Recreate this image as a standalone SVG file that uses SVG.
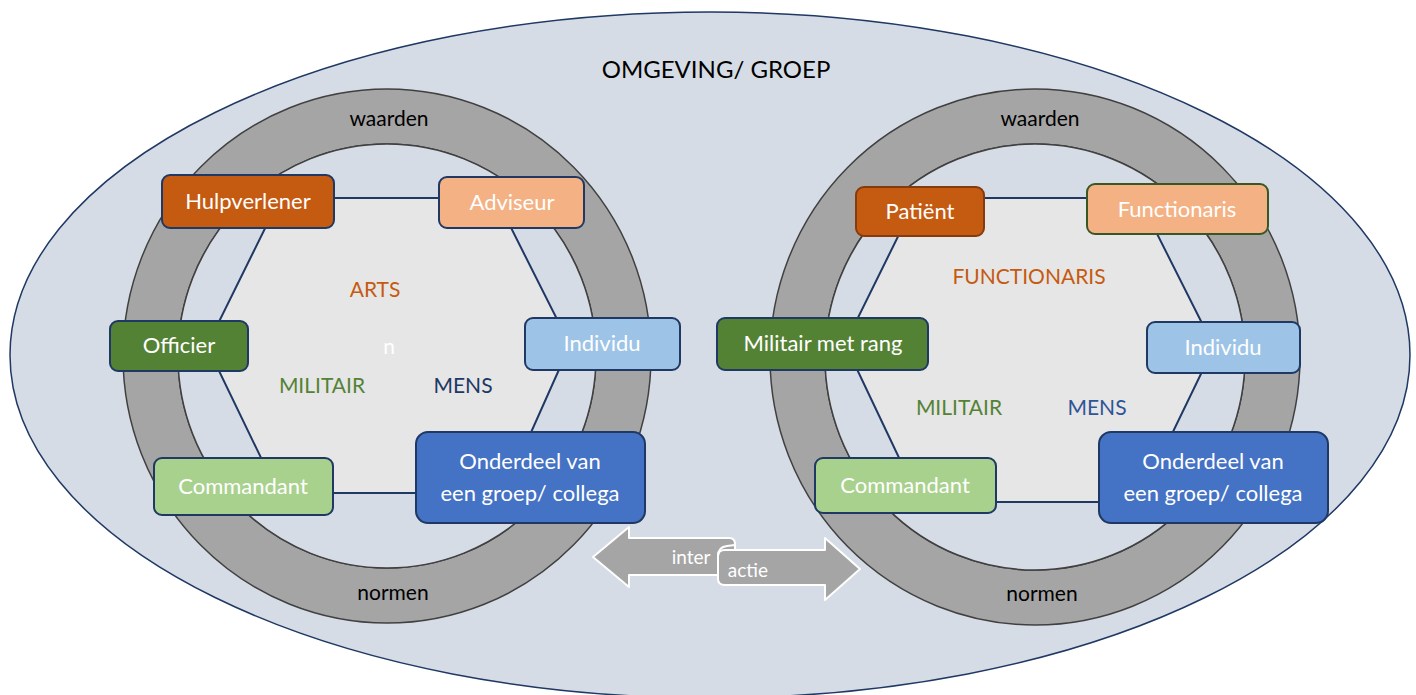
<svg xmlns="http://www.w3.org/2000/svg" width="1416" height="695" viewBox="0 0 1416 695">
<style>
.bg{fill:#D6DCE5;stroke:#1F3864;stroke-width:1.5}
.ring{fill:#A5A5A5;fill-rule:evenodd;stroke:#404040;stroke-width:1.5}
.inner{fill:#D6DCE5;stroke:#404040;stroke-width:1.5}
.hex{fill:#E7E6E6;stroke:none}
.edge{stroke:#1F3864;stroke-width:2;fill:none}
.box{stroke:#1F3864;stroke-width:2}
.bt{font-family:Lato,"Liberation Sans",sans-serif;font-size:22px;fill:#FFFFFF;text-anchor:middle}
.lbl{font-family:Lato,"Liberation Sans",sans-serif;font-size:21px;text-anchor:middle}
.arrow{fill:#A5A5A5;stroke:#FFFFFF;stroke-width:2;stroke-linejoin:round}
</style>
<g id="background">
<ellipse class="bg" cx="710" cy="355" rx="700" ry="343"/>
<text class="lbl" x="716" y="78" style="font-size:24px" fill="#000">OMGEVING/ GROEP</text>
</g>
<g id="ring-left">
<path class="ring" d="M123,356 A264,267 0 1 0 651,356 A264,267 0 1 0 123,356 Z M178,356 A209,212 0 1 1 596,356 A209,212 0 1 1 178,356 Z"/>
<ellipse class="inner" cx="387" cy="356" rx="209" ry="212"/>
<polygon class="hex" points="280,198 496,198 570,345 504,493 278,493 207,346"/>
<text class="lbl" x="389" y="126" fill="#000">waarden</text>
<text class="lbl" x="393" y="600" fill="#000">normen</text>
</g>
<g id="ring-right">
<path class="ring" d="M770,357 A265,268 0 1 0 1300,357 A265,268 0 1 0 770,357 Z M825,357 A210,213 0 1 1 1245,357 A210,213 0 1 1 825,357 Z"/>
<ellipse class="inner" cx="1035" cy="357" rx="210" ry="213"/>
<polygon class="hex" points="917,198 1139,198 1214,347 1139,502 920,502 845,344"/>
<text class="lbl" x="1040" y="126" fill="#000">waarden</text>
<text class="lbl" x="1042" y="601" fill="#000">normen</text>
</g>
<g id="connectors">
<polygon class="edge" points="280,198 496,198 570,345 504,493 278,493 207,346"/>
<polygon class="edge" points="917,198 1139,198 1214,347 1139,502 920,502 845,344"/>
</g>
<g id="labels-left">
<text class="lbl" x="375" y="297" fill="#C55A11">ARTS</text>
<text class="lbl" x="389" y="354" fill="#FFFFFF">n</text>
<text class="lbl" x="322" y="393" fill="#548235">MILITAIR</text>
<text class="lbl" x="463" y="393" fill="#203864">MENS</text>
</g>
<g id="labels-right">
<text class="lbl" x="1029" y="284" fill="#C55A11">FUNCTIONARIS</text>
<text class="lbl" x="959" y="415" fill="#548235">MILITAIR</text>
<text class="lbl" x="1097" y="415" fill="#2F5597">MENS</text>
</g>
<g id="hulpverlener"><rect class="box" x="162" y="175" width="172" height="53" rx="8" fill="#C55A11"/><text class="bt" x="248" y="209">Hulpverlener</text></g>
<g id="adviseur"><rect class="box" x="439" y="177" width="145" height="51" rx="8" fill="#F4B183"/><text class="bt" x="512" y="210">Adviseur</text></g>
<g id="officier"><rect class="box" x="110" y="321" width="138" height="50" rx="8" fill="#548235"/><text class="bt" x="179" y="353">Officier</text></g>
<g id="individu-left"><rect class="box" x="525" y="318" width="155" height="52" rx="8" fill="#9DC3E6"/><text class="bt" x="602" y="351">Individu</text></g>
<g id="commandant-left"><rect class="box" x="154" y="458" width="179" height="57" rx="8" fill="#A9D18E"/><text class="bt" x="243" y="494">Commandant</text></g>
<g id="onderdeel-left"><rect class="box" x="416" y="432" width="229" height="91" rx="12" fill="#4472C4"/><text class="bt" x="530" y="469">Onderdeel van</text><text class="bt" x="530" y="501">een groep/ collega</text></g>
<g id="patient"><rect class="box" x="856" y="187" width="128" height="49" rx="8" fill="#C55A11" style="stroke:#843C0C"/><text class="bt" x="920" y="219">Patiënt</text></g>
<g id="functionaris"><rect class="box" x="1087" y="184" width="181" height="50" rx="8" fill="#F4B183" style="stroke:#385723"/><text class="bt" x="1177" y="217">Functionaris</text></g>
<g id="militair-met-rang"><rect class="box" x="717" y="318" width="211" height="52" rx="8" fill="#548235"/><text class="bt" x="823" y="351">Militair met rang</text></g>
<g id="individu-right"><rect class="box" x="1147" y="322" width="153" height="51" rx="8" fill="#9DC3E6"/><text class="bt" x="1223" y="355">Individu</text></g>
<g id="commandant-right"><rect class="box" x="815" y="458" width="181" height="55" rx="8" fill="#A9D18E"/><text class="bt" x="905" y="493">Commandant</text></g>
<g id="onderdeel-right"><rect class="box" x="1099" y="432" width="229" height="91" rx="12" fill="#4472C4"/><text class="bt" x="1213" y="469">Onderdeel van</text><text class="bt" x="1213" y="501">een groep/ collega</text></g>
<g id="interactie">
<path class="arrow" d="M593,557 L629,527 L629,538 L729,538 Q735,538 735,544 L735,575 L629,575 L629,587 Z"/>
<path class="arrow" d="M718,556 Q718,550 725,550 L825,550 L825,538 L860,569 L825,600 L825,585 L725,585 Q718,585 718,579 Z"/>
<path d="M718,556 Q718,547 727,546 L735,545" fill="none" stroke="#FFFFFF" stroke-width="2"/>
<text class="lbl" x="691" y="564" style="font-size:19px" fill="#FFFFFF">inter</text>
<text class="lbl" x="748" y="577" style="font-size:19px" fill="#FFFFFF">actie</text>
</g>
</svg>
